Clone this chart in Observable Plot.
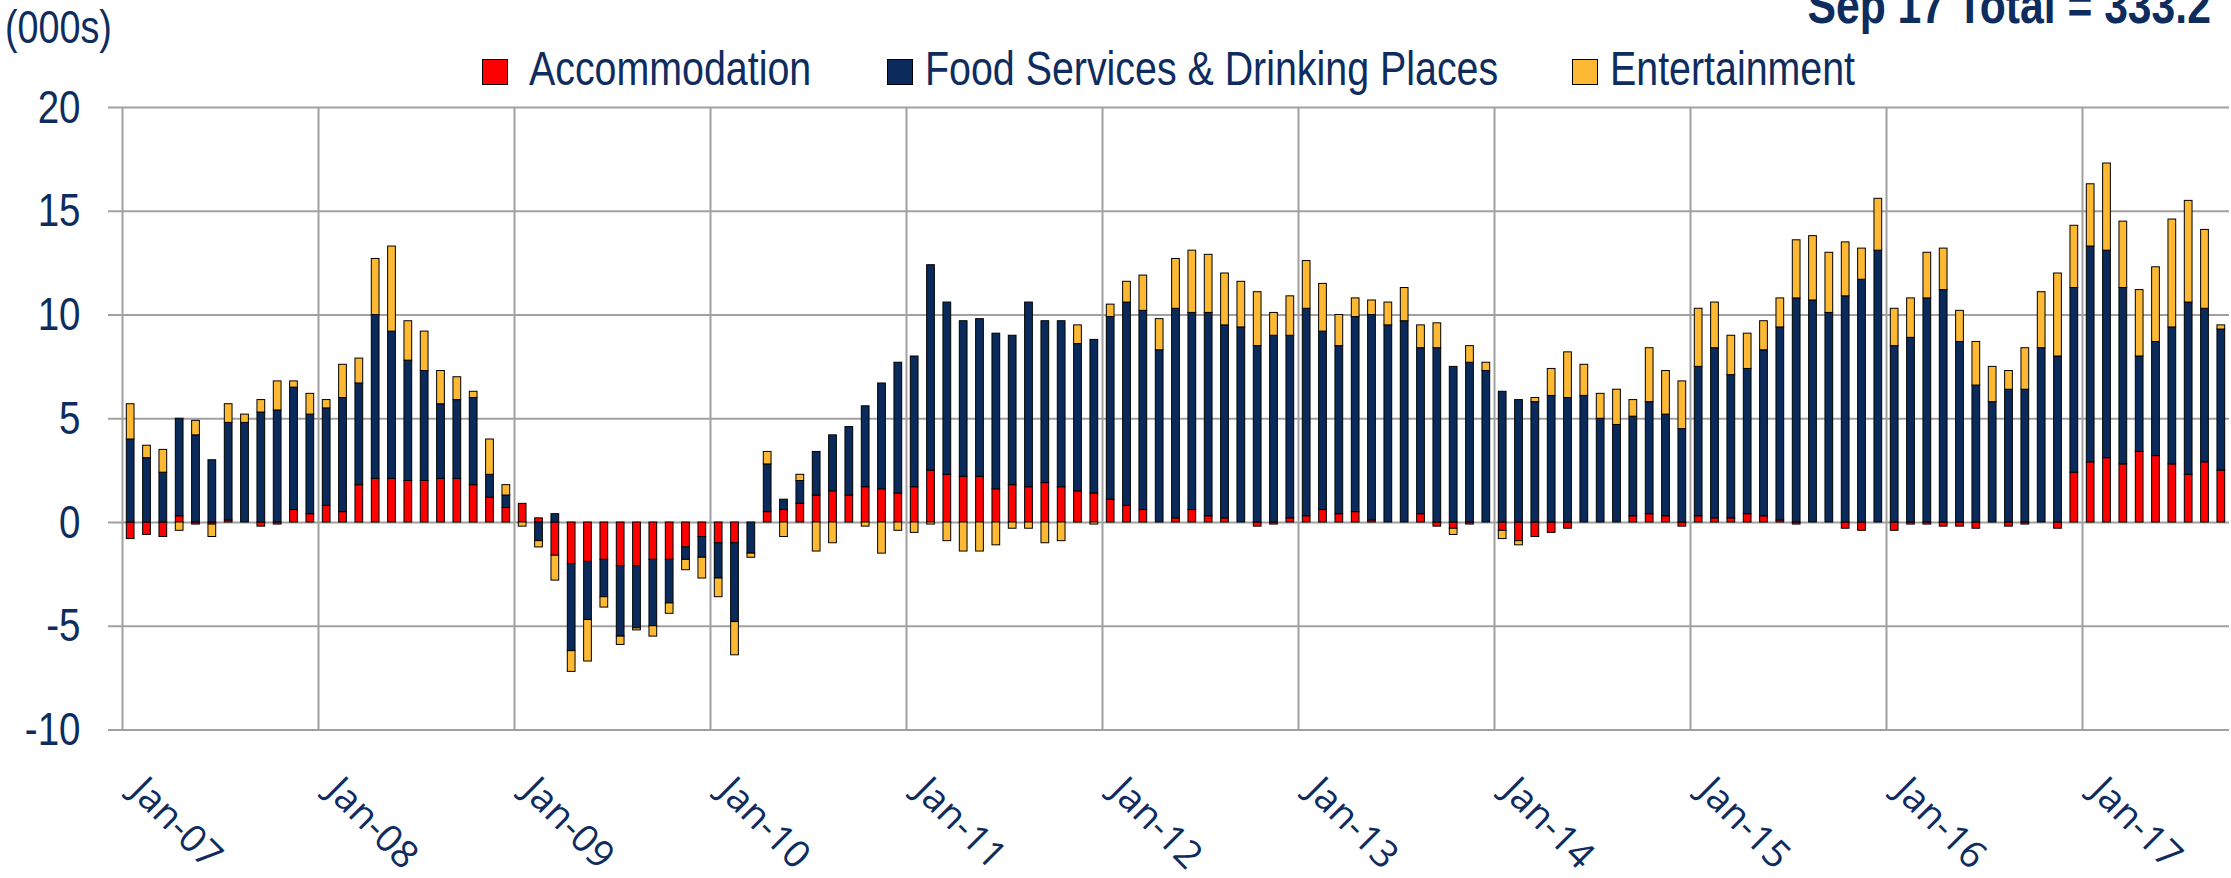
<!DOCTYPE html>
<html>
<head>
<meta charset="utf-8">
<script src="https://cdn.jsdelivr.net/npm/d3@7"></script>
<script src="https://cdn.jsdelivr.net/npm/@observablehq/plot@0.6"></script>
<style>
  body { margin: 0; background: #fff; }
  #wrap { position: relative; width: 2231px; height: 878px; overflow: hidden; background: #fff; }
  #wrap svg { position: absolute; left: 0; top: 0; }
  .t { position: absolute; white-space: nowrap; color: #0e2c5e; line-height: 1;
       font-family: "Liberation Sans", Arial, sans-serif; transform: scaleX(0.82); transform-origin: left center; }
  .sq { position: absolute; width: 26px; height: 26px; border: 1.5px solid #000; box-sizing: border-box; }
</style>
</head>
<body>
<div id="wrap"></div>
<script>
// ---- data (000s), monthly Jan-07 .. Sep-17 ----
const seriesNames = ["Accommodation", "Food Services & Drinking Places", "Entertainment"];
const seriesColors = ["#ff0000", "#0a2a5c", "#fdb933"];

const accommodation = [
  -0.8,-0.6,-0.7,0.3,-0.1,-0.1,0.1,0,-0.2,-0.1,0.6,0.4,
  0.8,0.5,1.8,2.1,2.1,2.0,2.0,2.1,2.1,1.8,1.2,0.7,
  0.9,0.2,-1.6,-2.0,-1.9,-1.8,-2.1,-2.1,-1.8,-1.8,-1.2,-0.7,
  -1.0,-1.0,0,0.5,0.6,0.9,1.3,1.5,1.3,1.7,1.6,1.4,
  1.7,2.5,2.3,2.2,2.2,1.6,1.8,1.7,1.9,1.7,1.5,1.4,
  1.1,0.8,0.6,0,0.2,0.6,0.3,0.2,0,-0.2,-0.1,0.2,
  0.3,0.6,0.4,0.5,0.1,0,0,0.4,-0.2,-0.3,-0.1,0,
  -0.4,-0.9,-0.7,-0.5,-0.3,0,0,0,0.3,0.4,0.3,-0.2,
  0.3,0.2,0.2,0.4,0.3,0.1,-0.1,0,0,-0.3,-0.4,0,
  -0.4,-0.1,-0.1,-0.2,-0.2,-0.3,0,-0.2,-0.1,0,-0.3,2.4,
  2.9,3.1,2.8,3.4,3.2,2.8,2.3,2.9,2.5
];
const foodServices = [
  4.0,3.1,2.4,4.7,4.2,3.0,4.7,4.8,5.3,5.4,5.9,4.8,
  4.7,5.5,4.9,7.9,7.1,5.8,5.3,3.6,3.8,4.2,1.1,0.6,
  0,-0.9,0.4,-4.2,-2.8,-1.8,-3.4,-3.0,-3.2,-2.1,-0.6,-1.0,
  -1.7,-3.8,-1.5,2.3,0.5,1.1,2.1,2.7,3.3,3.9,5.1,6.3,
  6.3,9.9,8.3,7.5,7.6,7.5,7.2,8.9,7.8,8.0,7.1,7.4,
  8.8,9.8,9.6,8.3,10.1,9.5,9.8,9.3,9.4,8.5,9.0,8.8,
  10.0,8.6,8.1,9.4,9.9,9.5,9.7,8.0,8.4,7.5,7.7,7.3,
  6.3,5.9,5.8,6.1,6.0,6.1,5.0,4.7,4.8,5.4,4.9,4.5,
  7.2,8.2,6.9,7.0,8.0,9.3,10.8,10.7,10.1,10.9,11.7,13.1,
  8.5,8.9,10.8,11.2,8.7,6.6,5.8,6.4,6.4,8.4,8.0,8.9,
  10.4,10.0,8.5,4.6,5.5,6.6,8.3,7.4,6.8
];
const entertainment = [
  1.7,0.6,1.1,-0.4,0.7,-0.6,0.9,0.4,0.6,1.4,0.3,1.0,
  0.4,1.6,1.2,2.7,4.1,1.9,1.9,1.6,1.1,0.3,1.7,0.5,
  -0.2,-0.3,-1.2,-1.0,-2.0,-0.5,-0.4,-0.1,-0.5,-0.5,-0.5,-1.0,
  -0.9,-1.6,-0.2,0.6,-0.7,0.3,-1.4,-1.0,0,-0.2,-1.5,-0.4,
  -0.5,-0.1,-0.9,-1.4,-1.4,-1.1,-0.3,-0.3,-1.0,-0.9,0.9,-0.1,
  0.6,1.0,1.7,1.5,2.4,3.0,2.8,2.5,2.2,2.6,1.1,1.9,
  2.3,2.3,1.5,0.9,0.7,1.1,1.6,1.1,1.2,-0.3,0.8,0.4,
  -0.4,-0.2,0.2,1.3,2.2,1.5,1.2,1.7,0.8,2.6,2.1,2.3,
  2.8,2.2,1.9,1.7,1.4,1.4,2.8,3.1,2.9,2.6,1.5,2.5,
  1.8,1.9,2.2,2.0,1.5,2.1,1.7,0.9,2.0,2.7,4.0,3.0,
  3.0,4.2,3.2,3.2,3.6,5.2,4.9,3.8,0.2
];
const tickLabels = ["Jan-07","Jan-08","Jan-09","Jan-10","Jan-11","Jan-12","Jan-13","Jan-14","Jan-15","Jan-16","Jan-17"];
const tickMonthIndex = [0,12,24,36,48,60,72,84,96,108,120];
const yTicks = [-10,-5,0,5,10,15,20];
const unitLabel = "(000s)";
const titleText = "Sep 17 Total = 333.2";

// ---- long table for stacking ----
const seriesValues = [accommodation, foodServices, entertainment];
const table = [];
for (let i = 0; i < accommodation.length; i++) {
  seriesValues.forEach((vals, s) => {
    if (vals[i] !== 0) table.push({i, series: seriesNames[s], value: vals[i]});
  });
}
const ticks = tickMonthIndex.map((m, k) => ({m, label: tickLabels[k]}));

const navy = "#0e2c5e";
const gridColor = "#a0a0a0";
const sans = '"Liberation Sans", Arial, sans-serif';

const chart = Plot.plot({
  width: 2231,
  height: 878,
  marginLeft: 122,
  marginRight: 2,
  marginTop: 107,
  marginBottom: 148.5,
  x: {domain: [0, accommodation.length], axis: null},
  y: {domain: [-10, 20], axis: null},
  color: {domain: seriesNames, range: seriesColors},
  style: {fontFamily: sans, background: "transparent", color: navy, overflow: "visible"},
  marks: [
    Plot.gridY(yTicks, {stroke: gridColor, strokeOpacity: 1, strokeWidth: 2}),
    Plot.gridX(tickMonthIndex, {stroke: gridColor, strokeOpacity: 1, strokeWidth: 2}),
    Plot.axisY(yTicks, {tickSize: 14, tickPadding: 28, stroke: gridColor, strokeWidth: 2, strokeOpacity: 1,
                        fill: navy, fontSize: 47, fontFamily: sans, label: null, tickFormat: d => String(d)}),
    Plot.rectY(table, {x: "i", interval: 1, y: "value", fill: "series", stroke: "#000", strokeWidth: 1,
                       insetLeft: 4.3, insetRight: 4.3}),
    Plot.text(ticks, {x: "m", text: "label", frameAnchor: "bottom", rotate: 45, textAnchor: "start",
                      lineAnchor: "bottom", dx: 6, dy: 63, fontSize: 38, fontFamily: "Open Sans", fill: navy})
  ]
});

// condense the y tick labels (narrow face look)
chart.querySelectorAll('g[aria-label="y-axis tick label"] text').forEach(t => {
  const tr = t.getAttribute("transform") || "";
  t.setAttribute("transform", tr + " scale(0.82,1)");
});

const wrap = document.getElementById("wrap");
wrap.appendChild(chart);

function addText(txt, left, top, size, extra) {
  const d = document.createElement("div");
  d.className = "t";
  d.textContent = txt;
  if (left != null) d.style.left = left + "px";
  d.style.top = top + "px";
  d.style.fontSize = size + "px";
  if (extra) Object.assign(d.style, extra);
  wrap.appendChild(d);
}
function addSquare(color, left, top) {
  const d = document.createElement("div");
  d.className = "sq";
  d.style.background = color;
  d.style.left = left + "px";
  d.style.top = top + "px";
  wrap.appendChild(d);
}
addText(unitLabel, 5, 4, 46);
addText(titleText, null, -21, 52, {right: "20px", fontWeight: "bold", transformOrigin: "right center"});
const legendSquares = [482, 887, 1572];
const legendTexts = [529, 925, 1610];
seriesNames.forEach((n, k) => {
  addSquare(seriesColors[k], legendSquares[k], 59);
  addText(n, legendTexts[k], 45, 48);
});
</script>
</body>
</html>
